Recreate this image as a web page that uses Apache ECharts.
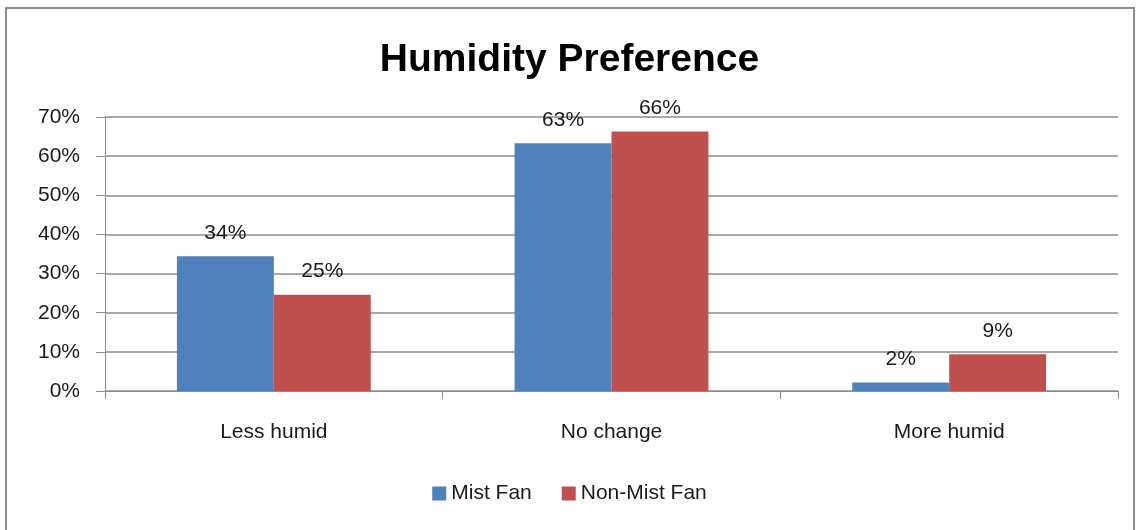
<!DOCTYPE html>
<html>
<head>
<meta charset="utf-8">
<script src="https://cdn.jsdelivr.net/npm/echarts@6/dist/echarts.min.js"></script>
<style>
  html, body { margin: 0; padding: 0; background: #fff; }
  #chart { width: 1139px; height: 530px; }
</style>
</head>
<body>
<div id="chart"></div>
<script>
// 类目和数据
const categories = ["Less humid", "No change", "More humid"];
const mistFan = [34.4, 63.3, 2.2];
const nonMistFan = [24.6, 66.3, 9.4];
const yTicks = [0, 10, 20, 30, 40, 50, 60, 70];

const chart = echarts.init(document.getElementById("chart"));

const labelStyle = {
  show: true,
  position: "top",
  distance: 13,
  fontFamily: "Liberation Sans",
  fontSize: 21,
  color: "#1a1a1a",
  formatter: p => Math.round(p.value) + "%"
};

const option = {
  animation: false,
  backgroundColor: "#fff",
  // 外框
  graphic: [
    {
      type: "rect",
      shape: { x: 6, y: 8, width: 1128, height: 530 },
      style: { fill: "none", stroke: "#8c8c8c", lineWidth: 2 }
    }
  ],
  title: {
    text: "Humidity Preference",
    left: "center",
    top: 36,
    textStyle: {
      fontFamily: "Liberation Sans",
      fontWeight: "bold",
      fontSize: 39,
      color: "#000"
    }
  },
  legend: {
    bottom: 21,
    left: "center",
    itemWidth: 14,
    itemHeight: 14,
    itemGap: 30,
    icon: "rect",
    textStyle: { fontFamily: "Liberation Sans", fontSize: 21, color: "#1a1a1a" },
    data: ["Mist Fan", "Non-Mist Fan"]
  },
  grid: { left: 105, right: 21, top: 117, bottom: 139 },
  xAxis: {
    type: "category",
    data: categories,
    axisLine: { lineStyle: { color: "#8c8c8c", width: 1 } },
    axisTick: { show: true, length: 8, lineStyle: { color: "#8c8c8c" } },
    axisLabel: {
      margin: 31,
      fontFamily: "Liberation Sans",
      fontSize: 21,
      color: "#1a1a1a"
    }
  },
  yAxis: {
    type: "value",
    min: yTicks[0],
    max: yTicks[yTicks.length - 1],
    interval: 10,
    axisLine: { show: true, lineStyle: { color: "#8c8c8c" } },
    axisTick: { show: true, inside: false, length: 9, lineStyle: { color: "#8c8c8c" } },
    splitLine: { lineStyle: { color: "#8c8c8c", width: 1.5 } },
    axisLabel: {
      margin: 25,
      fontFamily: "Liberation Sans",
      fontSize: 21,
      color: "#1a1a1a",
      formatter: v => v + "%"
    }
  },
  series: [
    {
      name: "Mist Fan",
      type: "bar",
      data: mistFan,
      barWidth: "28.7%",
      barGap: "0%",
      itemStyle: { color: "#4F81BD" },
      label: labelStyle
    },
    {
      name: "Non-Mist Fan",
      type: "bar",
      data: nonMistFan,
      barWidth: "28.7%",
      itemStyle: { color: "#C0504D" },
      label: labelStyle
    }
  ]
};

chart.setOption(option);
</script>
</body>
</html>
